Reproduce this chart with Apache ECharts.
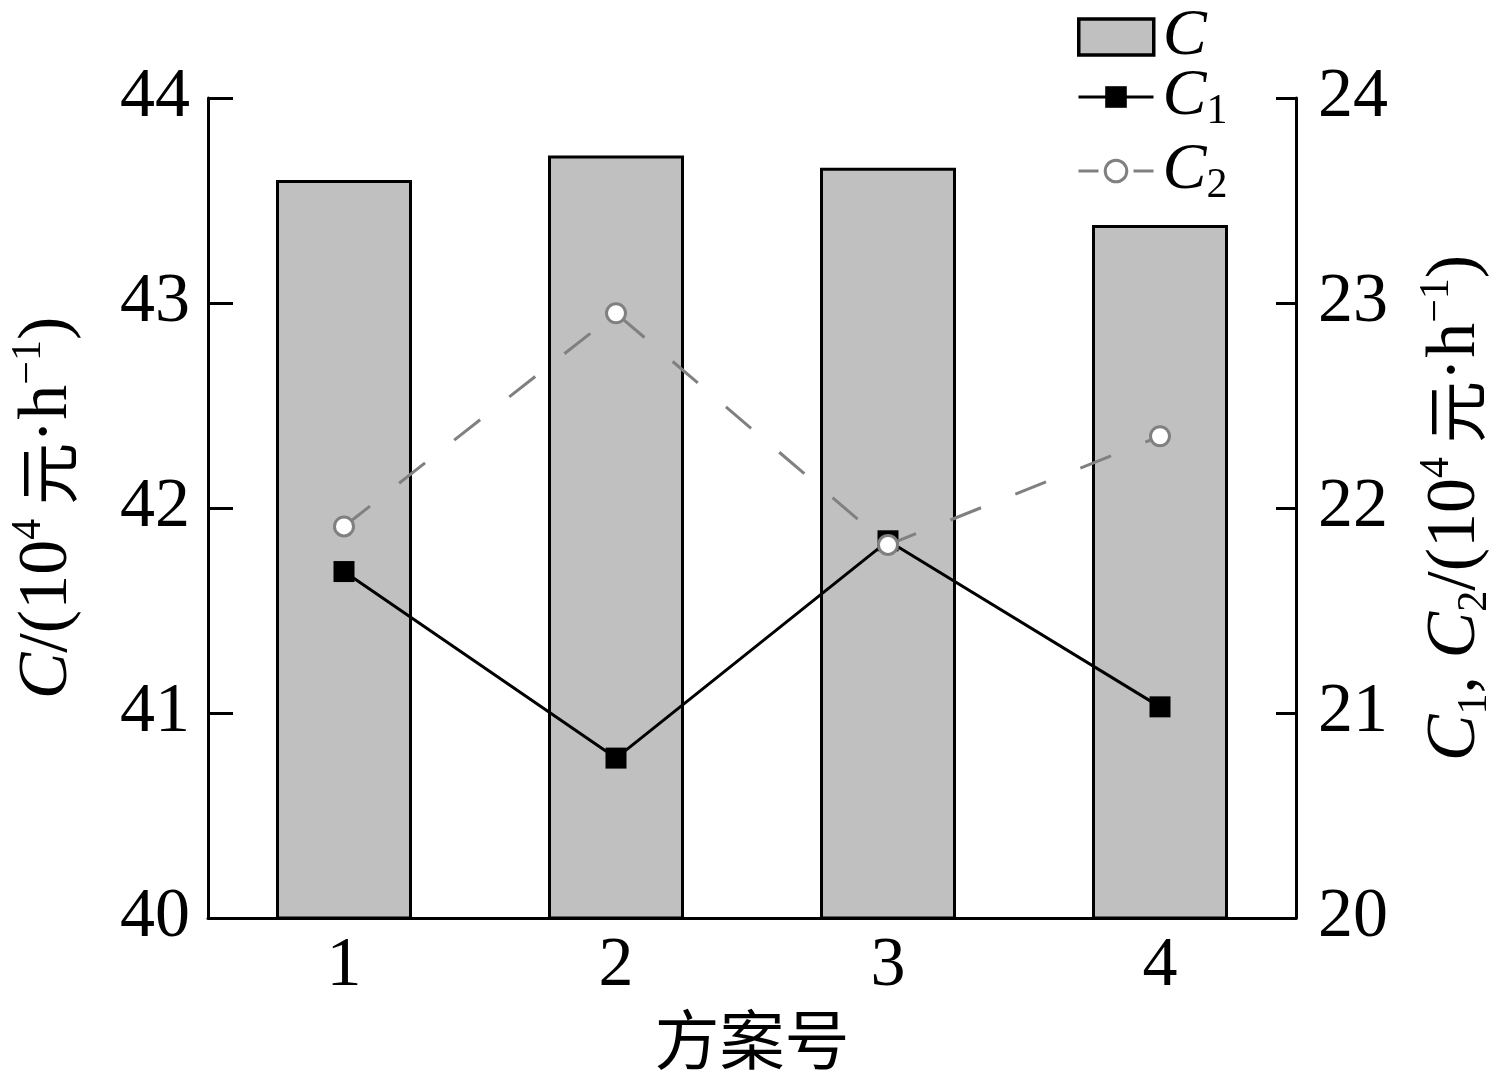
<!DOCTYPE html>
<html>
<head>
<meta charset="utf-8">
<script src="https://cdn.jsdelivr.net/npm/echarts@6/dist/echarts.min.js"></script>
<style>
html,body{margin:0;padding:0;background:#fff;}
#chart{width:1505px;height:1080px;}
</style>
</head>
<body>
<div id="chart"></div>
<script>
const categories = ['1', '2', '3', '4'];
const valuesC = [43.6, 43.72, 43.66, 43.38];
const valuesC1 = [21.69, 20.78, 21.84, 21.03];
const valuesC2 = [21.91, 22.95, 21.82, 22.35];
const leftTicks = [40, 41, 42, 43, 44];
const rightTicks = [20, 21, 22, 23, 24];

const SERIF = '"Liberation Serif", "Times New Roman", serif';
const CJK = '"Noto Sans CJK SC", sans-serif';

const nameRich = {
  i: { fontFamily: SERIF, fontStyle: 'italic', fontSize: 70, color: '#000', lineHeight: 80 },
  n: { fontFamily: SERIF, fontSize: 70, color: '#000', lineHeight: 80 },
  c: { fontFamily: CJK, fontSize: 62, color: '#000', lineHeight: 80 },
  sup: { fontFamily: SERIF, fontSize: 42, color: '#000', verticalAlign: 'top', lineHeight: 80, padding: [0, 0, 18, 0] },
  sub: { fontFamily: SERIF, fontSize: 42, color: '#000', verticalAlign: 'bottom', lineHeight: 80 }
};

const legRich = {
  i: { fontFamily: SERIF, fontStyle: 'italic', fontSize: 66, color: '#000', lineHeight: 44 },
  sub: { fontFamily: SERIF, fontSize: 42, color: '#000', lineHeight: 44, padding: [30, 0, 0, 0] }
};

function mkLegend(item, top, ih) {
  return {
    data: [item],
    left: 1072,
    top: top,
    orient: 'vertical',
    itemWidth: 75,
    itemHeight: ih,
    itemGap: 0,
    selectedMode: false,
    lineStyle: { width: 3 },
    formatter: function (n) {
      if (n === 'C') return '{i|C}';
      if (n === 'C1') return '{i|C}{sub|1}';
      return '{i|C}{sub|2}';
    },
    textStyle: { rich: legRich, padding: [0, 0, 0, 4] }
  };
}

const chart = echarts.init(document.getElementById('chart'));
chart.setOption({
  backgroundColor: '#fff',
  animation: false,
  grid: { left: 203, right: 209, top: 98, bottom: 162, containLabel: false },
  legend: [
    mkLegend({ name: 'C', icon: 'rect', itemStyle: { color: '#c0c0c0', borderColor: '#000', borderWidth: 3.5 } }, -1, 36),
    mkLegend({ name: 'C1', lineStyle: { width: 3, color: '#000' } }, 56, 27),
    mkLegend({ name: 'C2', lineStyle: { width: 3, color: '#808080', type: [20, 35] }, itemStyle: { color: '#fff', borderColor: '#808080', borderWidth: 3 } }, 130, 27)
  ],
  xAxis: {
    type: 'category',
    data: categories,
    boundaryGap: true,
    name: '方案号',
    nameLocation: 'middle',
    nameGap: 80,
    nameTextStyle: { fontFamily: CJK, fontSize: 65, color: '#000' },
    axisLine: { lineStyle: { color: '#000', width: 3 } },
    axisTick: { show: true, inside: true, alignWithLabel: true, length: 25, lineStyle: { color: '#000', width: 3 } },
    axisLabel: { fontFamily: SERIF, fontSize: 70, color: '#000', margin: 14 },
    splitLine: { show: false }
  },
  yAxis: [
    {
      type: 'value',
      min: leftTicks[0],
      max: leftTicks[leftTicks.length - 1],
      interval: 1,
      position: 'left',
      name: '{i|C}{n|/(10}{sup|4}{c| 元}{n|·h}{sup|−1}{n|)}',
      nameLocation: 'middle',
      nameRotate: 90,
      nameGap: 120,
      nameTextStyle: { rich: nameRich },
      axisLine: { show: true, lineStyle: { color: '#000', width: 3 } },
      axisTick: { show: true, inside: true, length: 25, lineStyle: { color: '#000', width: 3 } },
      axisLabel: { fontFamily: SERIF, fontSize: 70, color: '#000', margin: 18 },
      splitLine: { show: false }
    },
    {
      type: 'value',
      min: rightTicks[0],
      max: rightTicks[rightTicks.length - 1],
      interval: 1,
      position: 'right',
      name: '{i|C}{sub|1}{n|, }{i|C}{sub|2}{n|/(10}{sup|4}{c| 元}{n|·h}{sup|−1}{n|)}',
      nameLocation: 'middle',
      nameRotate: 90,
      nameGap: 120,
      nameTextStyle: { rich: nameRich },
      axisLine: { show: true, lineStyle: { color: '#000', width: 3 } },
      axisTick: { show: true, inside: true, length: 20, lineStyle: { color: '#000', width: 3 } },
      axisLabel: { fontFamily: SERIF, fontSize: 70, color: '#000', margin: 22 },
      splitLine: { show: false }
    }
  ],
  series: [
    {
      name: 'C',
      type: 'bar',
      yAxisIndex: 0,
      data: valuesC,
      barWidth: '50%',
      itemStyle: { color: '#c0c0c0', borderColor: '#000', borderWidth: 3 },
      z: 1
    },
    {
      name: 'C1',
      type: 'line',
      yAxisIndex: 1,
      data: valuesC1,
      symbol: 'rect',
      symbolSize: 21,
      lineStyle: { color: '#000', width: 3 },
      itemStyle: { color: '#000', borderColor: '#000', borderWidth: 0 },
      z: 3
    },
    {
      name: 'C2',
      type: 'line',
      yAxisIndex: 1,
      data: valuesC2,
      symbol: 'circle',
      symbolSize: 19,
      showAllSymbol: true,
      lineStyle: { color: '#808080', width: 3, type: [33, 37] },
      itemStyle: { color: '#fff', borderColor: '#808080', borderWidth: 3 },
      z: 4
    }
  ]
});
</script>
</body>
</html>
